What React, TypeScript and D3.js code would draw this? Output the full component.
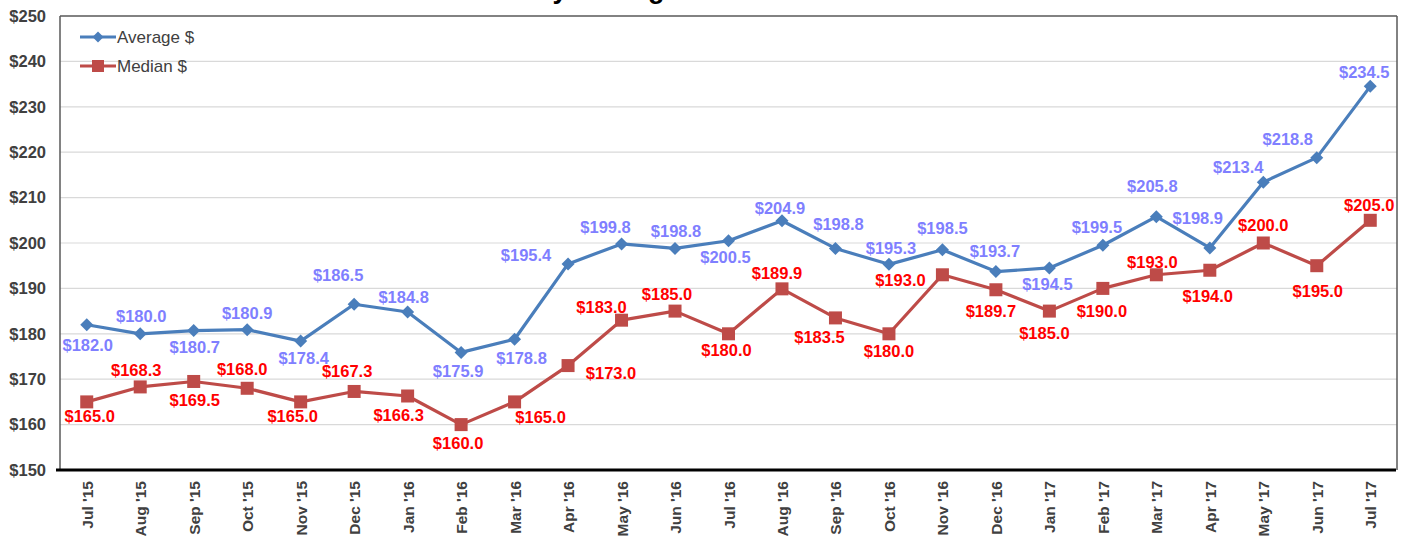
import React from "react";
import * as d3 from "d3";

const months = [
  "Jul '15", "Aug '15", "Sep '15", "Oct '15", "Nov '15", "Dec '15",
  "Jan '16", "Feb '16", "Mar '16", "Apr '16", "May '16", "Jun '16",
  "Jul '16", "Aug '16", "Sep '16", "Oct '16", "Nov '16", "Dec '16",
  "Jan '17", "Feb '17", "Mar '17", "Apr '17", "May '17", "Jun '17", "Jul '17",
];

const averageValues = [
  182.0, 180.0, 180.7, 180.9, 178.4, 186.5, 184.8, 175.9, 178.8, 195.4, 199.8, 198.8,
  200.5, 204.9, 198.8, 195.3, 198.5, 193.7, 194.5, 199.5, 205.8, 198.9, 213.4, 218.8, 234.5,
];

const medianValues = [
  165.0, 168.3, 169.5, 168.0, 165.0, 167.3, 166.3, 160.0, 165.0, 173.0, 183.0, 185.0,
  180.0, 189.9, 183.5, 180.0, 193.0, 189.7, 185.0, 190.0, 193.0, 194.0, 200.0, 195.0, 205.0,
];

const yTicks = [150, 160, 170, 180, 190, 200, 210, 220, 230, 240, 250];

// hand-placed label nudges (dx, dy from the marker), like the original chart
const averageNudge = [
  [1, 21], [1, -18], [1, 17], [0, -16], [3, 17], [-16, -29], [-4, -15], [-3, 19], [7, 19],
  [-42, -9], [-16, -17], [1, -17], [-3, 16], [-2, -13], [3, -24], [2, -16], [0, -22],
  [-1, -20], [-2, 16], [-6, -18], [-4, -30], [-12, -30], [-25, -15], [-29, -18], [-6, -14],
];
const medianNudge = [
  [3, 14], [-4, -17], [1, 19], [-5, -19], [-8, 14], [-7, -20], [-9, 19], [-3, 19], [26, 15],
  [43, 8], [-20, -13], [-8, -17], [-2, 16], [-5, -16], [-16, 19], [0, 17], [-42, 5],
  [-5, 21], [-5, 22], [-1, 23], [-4, -13], [-2, 26], [0, -18], [1, 26], [-1, -15],
];

const W = 1405;
const H = 550;
const left = 60;
const right = 1397;
const top = 16;
const bottom = 470;

const AVG = "#4a7ebb";
const MED = "#be4b48";
const AVG_LABEL = "#7f7fff";
const MED_LABEL = "#ff0000";
const TEXT = "#404040";
const FONT = "Liberation Sans, Arial, sans-serif";

const diamond = (cx: number, cy: number, r: number) =>
  `M${cx},${cy - r}L${cx + r},${cy}L${cx},${cy + r}L${cx - r},${cy}Z`;

export default function App() {
  const x = d3.scaleBand<string>().domain(months).range([left, right]);
  const y = d3.scaleLinear().domain([150, 250]).range([bottom, top]);
  const cx = (m: string) => (x(m) ?? 0) + x.bandwidth() / 2;

  const line = d3
    .line<number>()
    .x((_, i) => cx(months[i]))
    .y((d) => y(d));

  const fmt = (v: number) => "$" + v.toFixed(1);

  return (
    <svg
      width={W}
      height={H}
      style={{ position: "absolute", left: 0, top: 0, background: "#fff" }}
      fontFamily={FONT}
    >
      {/* title, mostly cut off at the top */}
      <text x={464} y={-2.5} fontSize={27} fontWeight="bold" fill="#000">
        Monthly Average &amp; Median
      </text>

      {/* gridlines */}
      {yTicks.slice(1, -1).map((t) => (
        <line key={t} x1={left} x2={right} y1={y(t)} y2={y(t)} stroke="#d9d9d9" strokeWidth={1.2} />
      ))}

      {/* frame */}
      <line x1={left} x2={right} y1={top} y2={top} stroke="#595959" strokeWidth={1.5} />
      <line x1={right} x2={right} y1={top} y2={bottom} stroke="#595959" strokeWidth={1.5} />
      <line x1={left} x2={left} y1={top} y2={bottom} stroke="#595959" strokeWidth={1.5} />
      <line x1={left - 4} x2={right - 1} y1={bottom} y2={bottom} stroke="#000" strokeWidth={3} />

      {/* y axis labels */}
      {yTicks.map((t) => (
        <text
          key={t}
          x={46}
          y={y(t)}
          dy="0.35em"
          textAnchor="end"
          fontSize={16.5}
          fontWeight="bold"
          fill={TEXT}
        >
          {"$" + t}
        </text>
      ))}

      {/* x axis labels */}
      {months.map((m) => (
        <text
          key={m}
          transform={`translate(${cx(m) + 6},${481}) rotate(-90)`}
          textAnchor="end"
          fontSize={15.5}
          fontWeight="bold"
          fill={TEXT}
        >
          {m}
        </text>
      ))}

      {/* series lines */}
      <path d={line(averageValues) ?? ""} fill="none" stroke={AVG} strokeWidth={3.2} strokeLinejoin="round" />
      <path d={line(medianValues) ?? ""} fill="none" stroke={MED} strokeWidth={3.2} strokeLinejoin="round" />

      {/* markers */}
      {averageValues.map((v, i) => (
        <path key={"a" + i} d={diamond(cx(months[i]), y(v), 6.5)} fill={AVG} />
      ))}
      {medianValues.map((v, i) => (
        <rect key={"m" + i} x={cx(months[i]) - 6.5} y={y(v) - 6.5} width={13} height={13} fill={MED} />
      ))}

      {/* data labels */}
      {averageValues.map((v, i) => (
        <text
          key={"al" + i}
          x={cx(months[i]) + averageNudge[i][0]}
          y={y(v) + averageNudge[i][1]}
          dy="0.35em"
          textAnchor="middle"
          fontSize={16.5}
          fontWeight="bold"
          fill={AVG_LABEL}
        >
          {fmt(v)}
        </text>
      ))}
      {medianValues.map((v, i) => (
        <text
          key={"ml" + i}
          x={cx(months[i]) + medianNudge[i][0]}
          y={y(v) + medianNudge[i][1]}
          dy="0.35em"
          textAnchor="middle"
          fontSize={16.5}
          fontWeight="bold"
          fill={MED_LABEL}
        >
          {fmt(v)}
        </text>
      ))}

      {/* legend */}
      <g>
        <line x1={80} x2={116} y1={37} y2={37} stroke={AVG} strokeWidth={3} />
        <path d={diamond(98, 37, 5.5)} fill={AVG} />
        <text x={117} y={37} dy="0.35em" fontSize={17} fill={TEXT}>
          Average $
        </text>
        <line x1={80} x2={116} y1={66} y2={66} stroke={MED} strokeWidth={3} />
        <rect x={92} y={60} width={12} height={12} fill={MED} />
        <text x={117} y={66} dy="0.35em" fontSize={17} fill={TEXT}>
          Median $
        </text>
      </g>
    </svg>
  );
}
